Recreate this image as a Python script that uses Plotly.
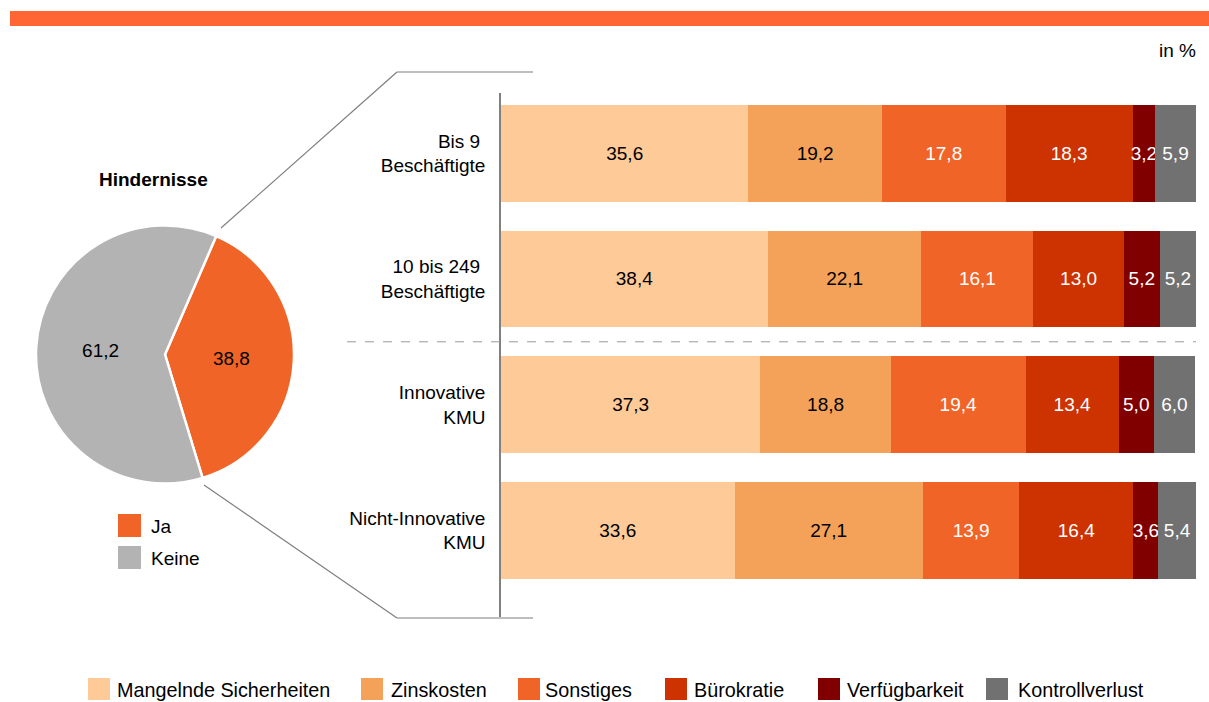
import plotly.graph_objects as go

W, H = 1209, 702

# ---------------- data ----------------
categories = ["Bis 9 <br>Beschäftigte", "10 bis 249 <br>Beschäftigte", "Innovative<br>KMU", "Nicht-Innovative<br>KMU"]
series_names = ["Mangelnde Sicherheiten", "Zinskosten", "Sonstiges", "Bürokratie", "Verfügbarkeit", "Kontrollverlust"]
mangelnde = [35.6, 38.4, 37.3, 33.6]
zinskosten = [19.2, 22.1, 18.8, 27.1]
sonstiges = [17.8, 16.1, 19.4, 13.9]
buerokratie = [18.3, 13.0, 13.4, 16.4]
verfuegbarkeit = [3.2, 5.2, 5.0, 3.6]
kontrollverlust = [5.9, 5.2, 6.0, 5.4]
series_values = [mangelnde, zinskosten, sonstiges, buerokratie, verfuegbarkeit, kontrollverlust]

pie_labels = ["Ja", "Keine"]
pie_values = [38.8, 61.2]
pie_title = "Hindernisse"
unit_label = "in %"

# ---------------- styles ----------------
series_colors = ["#FDCA98", "#F4A259", "#F06527", "#CC3300", "#800000", "#717171"]
series_textcolors = ["black", "black", "white", "white", "white", "white"]
pie_colors = ["#F06527", "#B3B3B3"]
FONT = "Arial, Liberation Sans, sans-serif"
FS = 19


def px(x):
    return x / W


def py(y):
    return 1 - y / H


fig = go.Figure()

# stacked bars
ypos = list(range(len(categories)))
for name, vals, col, tc in zip(series_names, series_values, series_colors, series_textcolors):
    fig.add_trace(go.Bar(
        name=name, y=ypos, x=vals, orientation="h",
        marker=dict(color=col, line=dict(width=0)),
        width=0.77,
        text=[f"{v:.1f}".replace(".", ",") for v in vals],
        textposition="inside", insidetextanchor="middle", textangle=0,
        constraintext="none",
        textfont=dict(family=FONT, size=FS, color=tc),
        showlegend=False, hoverinfo="skip",
        xaxis="x", yaxis="y",
    ))

# pie
fig.add_trace(go.Pie(
    labels=pie_labels, values=pie_values, sort=False, direction="clockwise",
    rotation=23.4,
    marker=dict(colors=pie_colors, line=dict(color="white", width=2.5)),
    texttemplate="%{value:.1f}", textposition="inside",
    insidetextorientation="horizontal",
    textfont=dict(family=FONT, size=FS, color="black"),
    domain=dict(x=[px(36), px(294)], y=[py(484), py(225)]),
    showlegend=False, hoverinfo="skip",
))

shapes = []
annotations = []

# top orange band
shapes.append(dict(type="rect", xref="paper", yref="paper", x0=px(10), x1=1, y0=py(26), y1=py(11),
                   fillcolor="#FF6633", line=dict(width=0), layer="above"))

# connector lines
lc = dict(color="#7F7F7F", width=1.2)
shapes.append(dict(type="line", xref="paper", yref="paper", x0=px(221), y0=py(228), x1=px(397), y1=py(72), line=lc))
shapes.append(dict(type="line", xref="paper", yref="paper", x0=px(397), y0=py(72), x1=px(533), y1=py(72), line=lc))
shapes.append(dict(type="line", xref="paper", yref="paper", x0=px(204), y0=py(485), x1=px(397), y1=py(618), line=lc))
shapes.append(dict(type="line", xref="paper", yref="paper", x0=px(397), y0=py(618), x1=px(533), y1=py(618), line=lc))

# dashed separator
shapes.append(dict(type="line", xref="paper", yref="y", x0=px(347), x1=px(1196), y0=1.5, y1=1.5,
                   line=dict(color="#999999", width=1, dash="dash")))

# pie legend
for i, (lab, col) in enumerate(zip(pie_labels, pie_colors)):
    y0 = 514 + i * 32
    shapes.append(dict(type="rect", xref="paper", yref="paper", x0=px(118), x1=px(141), y0=py(y0 + 23), y1=py(y0),
                       fillcolor=col, line=dict(width=0)))
    annotations.append(dict(xref="paper", yref="paper", x=px(149), y=py(y0 + 12), text=lab, showarrow=False,
                            xanchor="left", yanchor="middle", font=dict(family=FONT, size=FS, color="black")))

# bottom legend
leg_sq = [88, 361, 518, 665, 818, 986]
leg_tx = [115, 389, 543, 692, 845, 1016]
for name, col, sx, tx in zip(series_names, series_colors, leg_sq, leg_tx):
    shapes.append(dict(type="rect", xref="paper", yref="paper", x0=px(sx), x1=px(sx + 22), y0=py(700), y1=py(678),
                       fillcolor=col, line=dict(width=0)))
    annotations.append(dict(xref="paper", yref="paper", x=px(tx), y=py(690), text=name, showarrow=False,
                            xanchor="left", yanchor="middle", font=dict(family=FONT, size=19.8, color="black")))

# pie title and unit
annotations.append(dict(xref="paper", yref="paper", x=px(153), y=py(180), text=f"<b>{pie_title}</b>", showarrow=False,
                        xanchor="center", yanchor="middle", font=dict(family=FONT, size=FS, color="black")))
annotations.append(dict(xref="paper", yref="paper", x=px(1198), y=py(51), text=unit_label, showarrow=False,
                        xanchor="right", yanchor="middle", font=dict(family=FONT, size=FS, color="black")))

fig.update_layout(
    width=W, height=H, autosize=False,
    margin=dict(l=0, r=0, t=0, b=0),
    paper_bgcolor="white", plot_bgcolor="white",
    barmode="stack",
    separators=",.",
    shapes=shapes, annotations=annotations,
    xaxis=dict(domain=[px(501), px(1196)], range=[0, 100], showgrid=False, zeroline=False,
               showticklabels=False, showline=False, fixedrange=True),
    yaxis=dict(domain=[py(617), py(93)], range=[3.69, -0.48], tickvals=ypos, ticktext=categories,
               showgrid=False, zeroline=False, showline=True, linecolor="#808080", linewidth=1.5,
               ticks="outside", ticklen=10, tickcolor="rgba(0,0,0,0)",
               tickfont=dict(family=FONT, size=FS, color="black")),
    font=dict(family=FONT, size=FS, color="black"),
)

fig.write_html("out.html", config={"displayModeBar": False},
               post_script="document.body.style.margin='0';document.body.style.padding='0';")
